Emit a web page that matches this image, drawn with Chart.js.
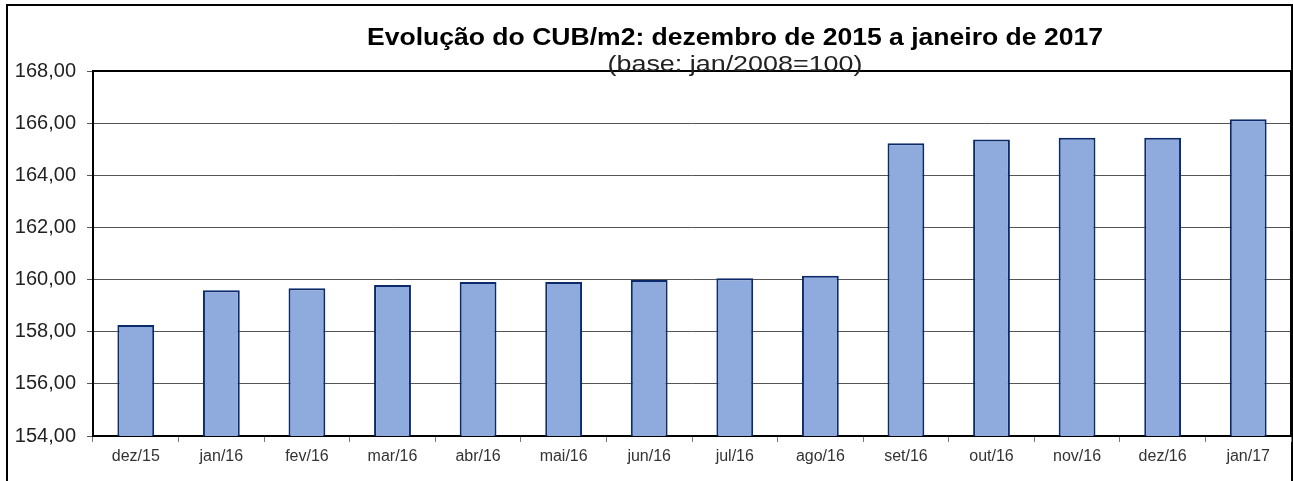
<!DOCTYPE html>
<html>
<head>
<meta charset="utf-8">
<script src="https://cdn.jsdelivr.net/npm/chart.js@4"></script>
<style>
    html, body { margin: 0; padding: 0; background: #fff; overflow: hidden; }
    #wrap { width: 1293px; height: 481px; position: relative; }
</style>
</head>
<body>
<div id="wrap"><canvas id="cubChart" width="1293" height="481"></canvas></div>
<script>
const months = ["dez/15", "jan/16", "fev/16", "mar/16", "abr/16", "mai/16", "jun/16",
    "jul/16", "ago/16", "set/16", "out/16", "nov/16", "dez/16", "jan/17"];
const cubIndex = [158.26, 159.59, 159.67, 159.79, 159.91, 159.91, 159.98,
    160.05, 160.15, 165.23, 165.37, 165.44, 165.44, 166.15];
const yTicks = [154, 156, 158, 160, 162, 164, 166, 168];
const titleText = "Evolução do CUB/m2: dezembro de 2015 a janeiro de 2017";
const subtitleText = "(base: jan/2008=100)";

// the original picture is stretched sideways, so the title text gets stretched too
function wideText(ctx, text, font, cx, baseline, targetWidth) {
    ctx.font = font;
    const w = ctx.measureText(text).width;
    const sx = targetWidth / w;
    ctx.save();
    ctx.translate(cx, baseline);
    ctx.scale(sx, 1);
    ctx.textAlign = "center";
    ctx.textBaseline = "alphabetic";
    ctx.fillText(text, 0, 0);
    ctx.restore();
}

// outer frame + plot border + title text
const framePlugin = {
    id: "frame",
    beforeDraw(chart) {
        const ctx = chart.ctx;
        ctx.save();
        ctx.fillStyle = "#fff";
        ctx.fillRect(0, 0, chart.width, chart.height);
        ctx.strokeStyle = "#000";
        ctx.lineWidth = 2;
        ctx.beginPath();
        ctx.moveTo(7, chart.height + 2);
        ctx.lineTo(7, 5);
        ctx.lineTo(1292, 5);
        ctx.lineTo(1292, chart.height + 2);
        ctx.stroke();
        ctx.restore();
    },
    afterDraw(chart) {
        const ctx = chart.ctx;
        const a = chart.chartArea;
        ctx.save();
        ctx.strokeStyle = "#000";
        ctx.lineWidth = 2;
        ctx.beginPath();
        ctx.moveTo(a.left, a.top);
        ctx.lineTo(a.right, a.top);
        ctx.lineTo(a.right, a.bottom);
        ctx.stroke();
        ctx.fillStyle = "#000";
        wideText(ctx, titleText, "bold 23px 'Liberation Sans', Arial, sans-serif", 735, 45, 736);
        ctx.fillStyle = "#222";
        wideText(ctx, subtitleText, "22px 'Liberation Sans', Arial, sans-serif", 735, 71, 255);
        ctx.restore();
    }
};

const ctx = document.getElementById("cubChart");
new Chart(ctx, {
    type: "bar",
    data: {
        labels: months,
        datasets: [
            {
                label: "CUB/m2",
                data: cubIndex,
                backgroundColor: "#8faadc",
                borderColor: "#0a2a6b",
                borderWidth: 2,
                barPercentage: 0.43,
                categoryPercentage: 1,
            },
        ],
    },
    options: {
        responsive: false,
        animation: false,
        devicePixelRatio: 1,
        layout: { padding: { left: 0, top: 71, right: 2, bottom: 0 } },
        plugins: {
            legend: { display: false },
            tooltip: { enabled: false },
        },
        scales: {
            x: {
                grid: {
                    offset: true,
                    drawOnChartArea: false,
                    drawTicks: true,
                    tickLength: 6,
                    color: "#777",
                },
                border: { color: "#000", width: 2 },
                ticks: {
                    color: "#333",
                    maxRotation: 0,
                    autoSkip: false,
                    font: { family: "'Liberation Sans', Arial, sans-serif", size: 16 },
                    padding: 5,
                },
                afterFit: (scale) => { scale.height = 45; },
            },
            y: {
                min: 154,
                max: 168,
                afterBuildTicks: (scale) => {
                    scale.ticks = yTicks.map((v) => ({ value: v }));
                },
                grid: {
                    color: "#555",
                    lineWidth: 1,
                    tickLength: 6,
                },
                border: { color: "#000", width: 2 },
                ticks: {
                    color: "#222",
                    font: { family: "'Liberation Sans', Arial, sans-serif", size: 20 },
                    padding: 11,
                    callback: (v) => v.toFixed(2).replace(".", ","),
                },
                afterFit: (scale) => { scale.width = 93; },
            },
        },
    },
    plugins: [framePlugin],
});
</script>
</body>
</html>
